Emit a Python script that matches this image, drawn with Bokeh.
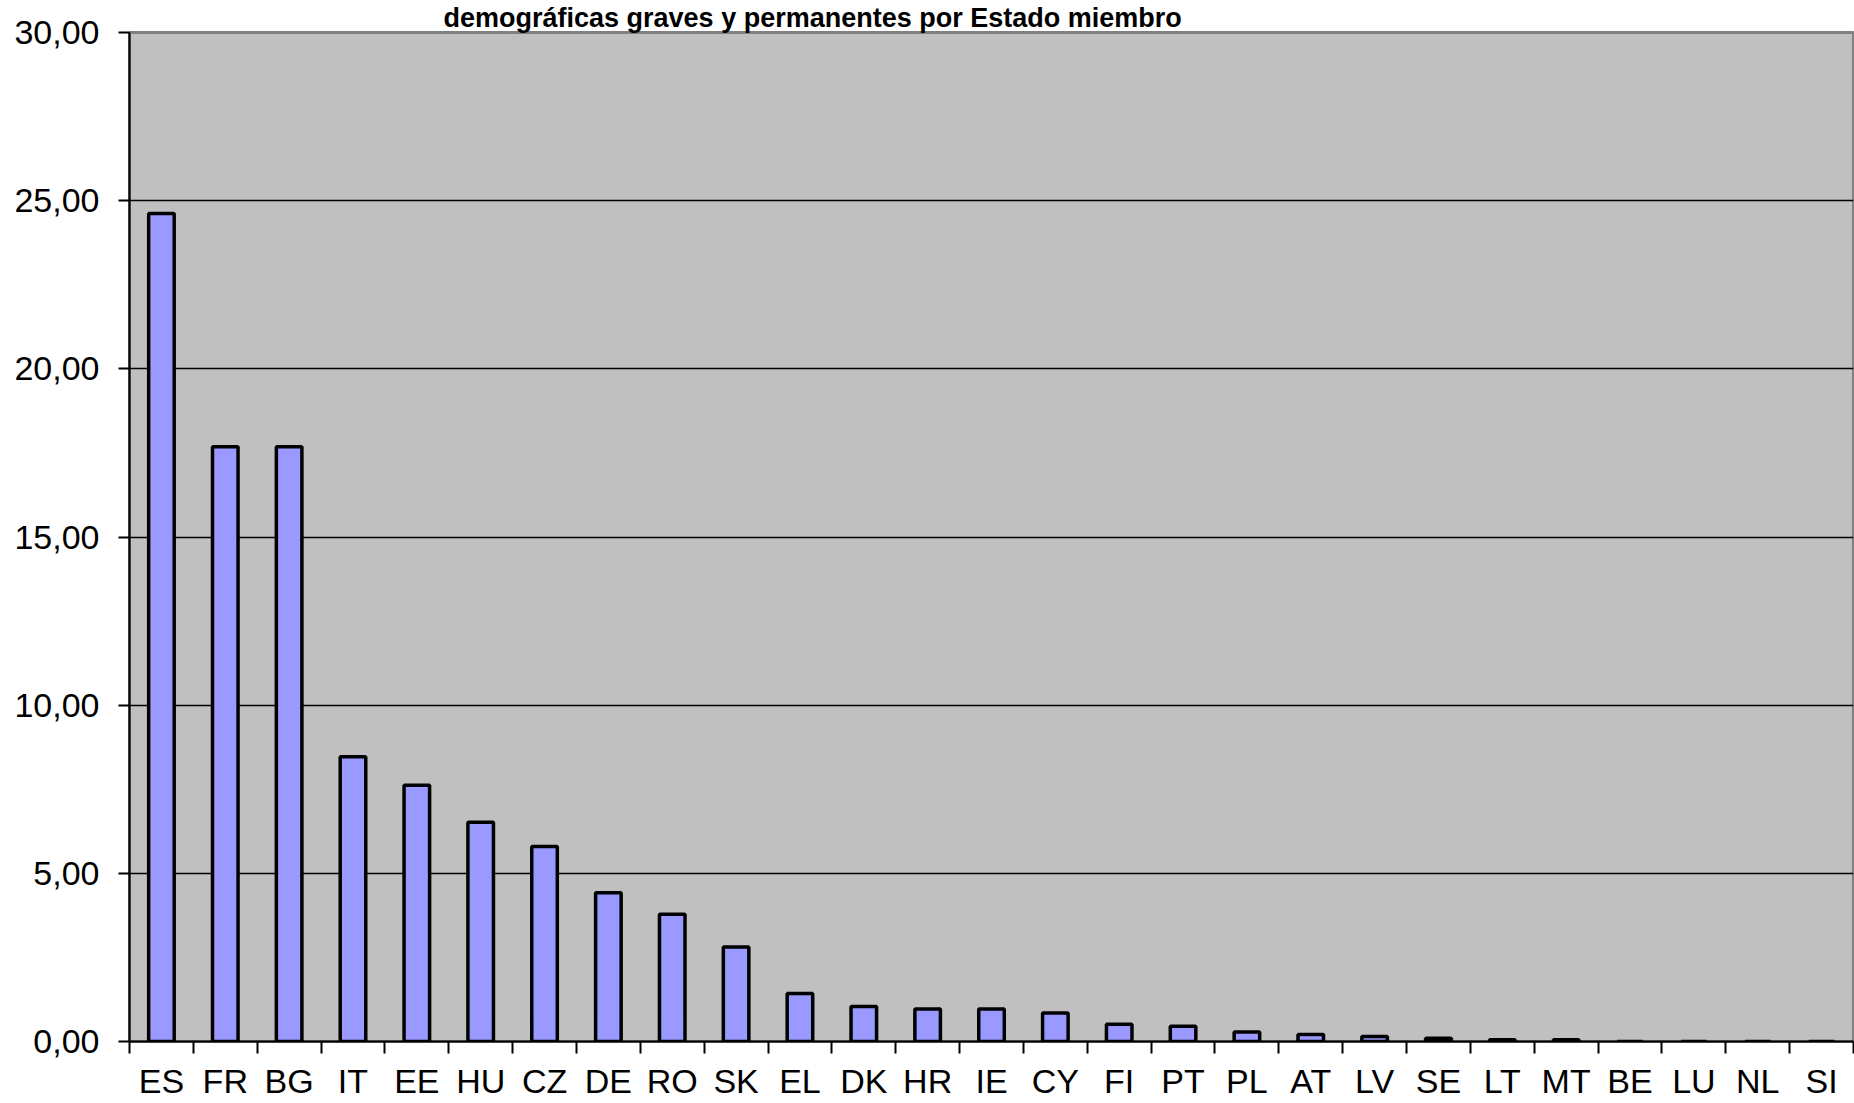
from bokeh.plotting import figure
from bokeh.models import Range1d, FixedTicker, ColumnDataSource
from bokeh.embed import file_html
from bokeh.resources import INLINE

countries = ["ES", "FR", "BG", "IT", "EE", "HU", "CZ", "DE", "RO", "SK", "EL", "DK", "HR", "IE",
             "CY", "FI", "PT", "PL", "AT", "LV", "SE", "LT", "MT", "BE", "LU", "NL", "SI"]
values = [24.62, 17.68, 17.68, 8.47, 7.62, 6.52, 5.80, 4.42, 3.78, 2.81, 1.43, 1.04, 0.97, 0.97,
          0.85, 0.51, 0.45, 0.28, 0.21, 0.15, 0.10, 0.05, 0.05, 0.0, 0.0, 0.0, 0.0]
y_ticks = [0, 5, 10, 15, 20, 25, 30]
y_tick_labels = ["0,00", "5,00", "10,00", "15,00", "20,00", "25,00", "30,00"]
title_text = "demográficas graves y permanentes por Estado miembro"

n = len(countries)
centers = [i + 0.5 for i in range(n)]
src = ColumnDataSource(dict(x=centers, top=values, name=countries))

p = figure(width=1854, height=1103, output_backend="svg", toolbar_location=None,
           x_range=Range1d(0, n), y_range=Range1d(0, 30),
           min_border_left=129, min_border_right=1, min_border_top=31, min_border_bottom=62)

p.title.text = title_text
p.title.text_font = "Liberation Sans"
p.title.text_font_style = "bold"
p.title.text_font_size = "27px"
p.title.text_color = "black"
p.title.align = "left"
p.title.offset = 314
p.title.standoff = 0

p.background_fill_color = "#C0C0C0"
p.border_fill_color = "white"
p.outline_line_color = "#808080"
p.outline_line_width = 3

p.vbar(x="x", top="top", width=0.4, bottom=0, source=src,
       fill_color="#9999FF", line_color="black", line_width=3.5)

# x axis
xa = p.xaxis[0]
xa.ticker = FixedTicker(ticks=centers, minor_ticks=list(range(n + 1)))
xa.major_label_overrides = {c: name for c, name in zip(centers, countries)}
xa.major_tick_line_color = None
xa.major_tick_out = 0
xa.major_tick_in = 0
xa.minor_tick_line_color = "black"
xa.minor_tick_line_width = 2
xa.minor_tick_out = 12
xa.minor_tick_in = 0
xa.axis_line_color = "black"
xa.axis_line_width = 2
xa.major_label_text_font = "Liberation Sans"
xa.major_label_text_font_size = "34px"
xa.major_label_text_color = "black"
xa.major_label_standoff = 8

# y axis
ya = p.yaxis[0]
ya.ticker = FixedTicker(ticks=y_ticks, minor_ticks=[])
ya.major_label_overrides = {t: s for t, s in zip(y_ticks, y_tick_labels)}
ya.major_tick_line_color = "black"
ya.major_tick_line_width = 2
ya.major_tick_out = 11
ya.major_tick_in = 0
ya.axis_line_color = "black"
ya.axis_line_width = 2
ya.major_label_text_font = "Liberation Sans"
ya.major_label_text_font_size = "34px"
ya.major_label_text_color = "black"
ya.major_label_standoff = 19

p.xgrid.grid_line_color = None
p.ygrid.ticker = FixedTicker(ticks=y_ticks)
p.ygrid.grid_line_color = "black"
p.ygrid.grid_line_width = 1.6

open("out.html", "w").write(file_html(p, INLINE))
